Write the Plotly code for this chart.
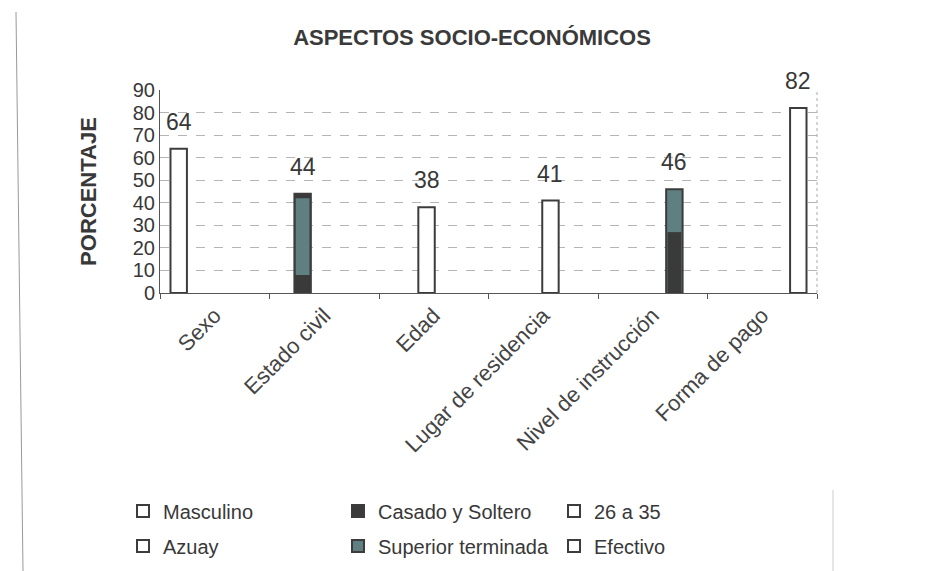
import plotly.graph_objects as go

# ---- data ----
categories = ["Sexo", "Estado civil", "Edad", "Lugar de residencia",
              "Nivel de instrucción", "Forma de pago"]
series_names = ["Masculino", "Casado y Soltero", "26 a 35",
                "Azuay", "Superior terminada", "Efectivo"]
values = [64, 44, 38, 41, 46, 82]
# shaded bands seen inside the two filled bars (value ranges)
estado_civil_band = [8, 42]      # lighter band inside "Estado civil"
nivel_dark_part = [0, 27]        # dark lower part inside "Nivel de instrucción"
y_ticks = [0, 10, 20, 30, 40, 50, 60, 70, 80, 90]

# ---- styles ----
WHITE = "#ffffff"
DARK = "#3a3a3a"
TEAL = "#5f7f80"
EDGE = "#3c3c3c"
TXT = "#383838"
FONT = "Liberation Sans, Arial, sans-serif"
fills = [WHITE, DARK, WHITE, WHITE, TEAL, WHITE]
# legend layout: (legend text left x in px, row centre y in px)
legend_names = ["legend", "legend2", "legend3", "legend4", "legend5", "legend6"]
legend_pos = [(163, 511), (378, 511), (594, 511),
              (163, 546), (378, 546), (594, 546)]

n = len(categories)
gap = 0.21
slot = (1 - gap) / n
bar_w = 0.15


def center(i):
    return -0.5 + gap / 2 + (i + 0.5) * slot


fig = go.Figure()
for i, (name, v) in enumerate(zip(series_names, values)):
    fig.add_trace(go.Bar(
        x=[categories[i]], y=[v], name=name,
        offset=center(i) - bar_w / 2, width=bar_w,
        marker=dict(color=fills[i], line=dict(color=EDGE, width=2)),
        legend=legend_names[i], showlegend=True,
    ))

# inner shading of the two filled bars
fig.add_trace(go.Bar(
    x=[categories[1]], y=[estado_civil_band[1] - estado_civil_band[0]],
    base=[estado_civil_band[0]], offset=center(1) - bar_w / 2 + 0.012,
    width=bar_w - 0.024, marker=dict(color=TEAL, line=dict(width=0)),
    showlegend=False, hoverinfo="skip"))
fig.add_trace(go.Bar(
    x=[categories[4]], y=[nivel_dark_part[1] - nivel_dark_part[0]],
    base=[nivel_dark_part[0]], offset=center(4) - bar_w / 2 + 0.012,
    width=bar_w - 0.024, marker=dict(color=DARK, line=dict(width=0)),
    showlegend=False, hoverinfo="skip"))

# value labels
for i, v in enumerate(values):
    fig.add_annotation(x=i + center(i), y=v, text=str(v), showarrow=False,
                       yanchor="bottom", yshift=12,
                       font=dict(family=FONT, size=23, color=TXT))

legends = {}
for lname, (lx, ly) in zip(legend_names, legend_pos):
    legends[lname] = dict(orientation="h", xref="container", yref="container",
                          x=(lx - 40) / 928, xanchor="left",
                          y=1 - ly / 571, yanchor="middle",
                          bgcolor="rgba(0,0,0,0)",
                          font=dict(family=FONT, size=20, color=TXT))

fig.update_layout(
    width=928, height=571,
    paper_bgcolor="white", plot_bgcolor="white",
    barmode="overlay",
    margin=dict(l=160, r=111, t=90, b=278),
    title=dict(text="<b>ASPECTOS SOCIO-ECONÓMICOS</b>", xref="container",
               x=472 / 928, xanchor="center", yref="container",
               y=1 - 37 / 571, yanchor="middle",
               font=dict(family=FONT, size=22, color="#3a3a3a")),
    showlegend=True,
    xaxis=dict(type="category", categoryorder="array", categoryarray=categories,
               range=[-0.5, n - 0.5], showline=True, linecolor="#555",
               linewidth=1, ticks="outside", tickson="boundaries", ticklen=5,
               tickcolor="#555", tickangle=-45,
               tickfont=dict(family=FONT, size=22, color="#444"),
               showgrid=False),
    yaxis=dict(range=[0, 90], tickvals=y_ticks, showline=True,
               linecolor="#555", linewidth=1, ticks="",
               tickfont=dict(family=FONT, size=20, color=TXT),
               showgrid=True, gridcolor="#b5b5b5", griddash="dash",
               gridwidth=1, zeroline=False,
               title=dict(text="<b>PORCENTAJE</b>", standoff=30,
                          font=dict(family=FONT, size=22, color=TXT))),
    shapes=[
        dict(type="line", xref="paper", yref="paper", x0=1, x1=1, y0=0, y1=1,
             line=dict(color="#aaaaaa", width=1, dash="dot")),
        dict(type="line", xref="paper", yref="paper",
             x0=(16 - 160) / 657, x1=(23 - 160) / 657,
             y0=(293 - 12) / 203, y1=(293 - 571) / 203,
             line=dict(color="#999999", width=1)),
        dict(type="line", xref="paper", yref="paper",
             x0=(833 - 160) / 657, x1=(833 - 160) / 657,
             y0=(293 - 490) / 203, y1=(293 - 571) / 203,
             line=dict(color="#cccccc", width=1)),
    ],
    **legends,
)

fig.write_html("out.html")
